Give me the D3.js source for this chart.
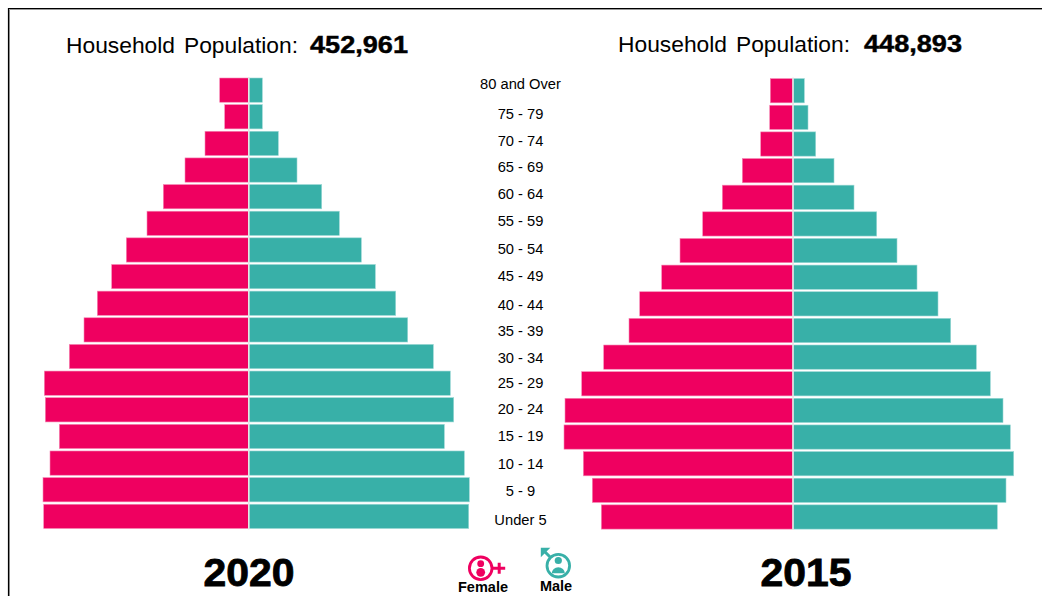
<!doctype html>
<html>
<head>
<meta charset="UTF-8">
<script src="https://d3js.org/d3.v7.min.js"></script>
<style type="text/css">
html, body { margin: 0; padding: 0; background: #fff; overflow: hidden; }
svg { display: block; }
text { font-family: "Liberation Sans", Arial, sans-serif; fill: #000; }
.heavy { font-weight: bold; stroke: #000; stroke-width: 0.8px; }
.num { stroke-width: 0.45px; }
</style>
</head>
<body>
<script>
// age groups, top of the pyramid first
var ageGroups = ["80 and Over", "75 - 79", "70 - 74", "65 - 69", "60 - 64", "55 - 59", "50 - 54", "45 - 49",
  "40 - 44", "35 - 39", "30 - 34", "25 - 29", "20 - 24", "15 - 19", "10 - 14", "5 - 9", "Under 5"];

// persons per age group
var female2020 = [2910, 2410, 4380, 6380, 8550, 10180, 12250, 13710, 15150, 16480, 17950, 20450, 20350, 18950, 19880, 20580, 20510];
var male2020 = [1350, 1350, 2950, 4820, 7290, 9050, 11250, 12650, 14690, 15890, 18450, 20150, 20490, 19550, 21550, 22050, 21990];
var female2015 = [2270, 2330, 3230, 5070, 7070, 9030, 11300, 13130, 15330, 16400, 18930, 21130, 22800, 22900, 20970, 20070, 19170];
var male2015 = [1130, 1500, 2270, 4100, 6100, 8370, 10400, 12400, 14500, 15770, 18330, 19730, 21000, 21730, 22070, 21300, 20430];

var total2020 = "452,961";
var total2015 = "448,893";

var w = 1042;
var h = 596;
var pink = "#ef0060";
var teal = "#38b0a8";

// labels in the original are not evenly spaced, so each gets a small shift off its band centre
var labelShift = [-6, -3, -2.7, -3.3, -2.7, -2.3, -1, -1, 1.8, 1.1, 1.5, -0.2, -0.8, -0.4, 0.9, 1.3, 3.6];

var canvas = d3.select("body").append("svg")
  .attr("width", w)
  .attr("height", h);

// frame only shows on the top and left
canvas.append("path")
  .attr("d", d3.line()([[9.5, h], [9.5, 9.5], [w, 9.5]]))
  .attr("fill", "none")
  .attr("stroke", "#999")
  .attr("stroke-width", 1);
canvas.append("path")
  .attr("d", d3.line()([[8.5, h], [8.5, 8.5], [w, 8.5]]))
  .attr("fill", "none")
  .attr("stroke", "#000")
  .attr("stroke-width", 1.2);

var widthScale = d3.scaleLinear().domain([0, 25000]).range([0, 250]);

function pyramid(female, male, centre, top, bottom) {
  var y = d3.scaleBand()
    .domain(ageGroups)
    .range([top, bottom])
    .paddingInner(0.09);

  var group = canvas.append("g");

  group.selectAll(".female")
    .data(female)
    .enter().append("rect")
    .attr("class", "female")
    .attr("x", function(d) { return centre - widthScale(d); })
    .attr("y", function(d, i) { return y(ageGroups[i]); })
    .attr("width", function(d) { return widthScale(d); })
    .attr("height", y.bandwidth())
    .attr("fill", pink)
    .attr("stroke", "#f58ab5")
    .attr("stroke-width", 0.6);

  group.selectAll(".male")
    .data(male)
    .enter().append("rect")
    .attr("class", "male")
    .attr("x", centre)
    .attr("y", function(d, i) { return y(ageGroups[i]); })
    .attr("width", function(d) { return widthScale(d); })
    .attr("height", y.bandwidth())
    .attr("fill", teal)
    .attr("stroke", "#9ad8d4")
    .attr("stroke-width", 0.6);

  // thin pale divider between the two sides
  group.append("line")
    .attr("x1", centre).attr("x2", centre)
    .attr("y1", top - 1).attr("y2", bottom + 1)
    .attr("stroke", "#e6e6e6")
    .attr("stroke-width", 1.6);

  return y;
}

var y2020 = pyramid(female2020, male2020, 248.8, 78, 528.5);
pyramid(female2015, male2015, 793, 78.6, 529.1);

// age labels sit between the pyramids
canvas.selectAll(".age")
  .data(ageGroups)
  .enter().append("text")
  .attr("class", "age")
  .attr("x", 520.5)
  .attr("y", function(d, i) { return y2020(d) + y2020.bandwidth() / 2 + labelShift[i]; })
  .attr("dy", "0.36em")
  .attr("text-anchor", "middle")
  .attr("font-size", 14.7)
  .text(function(d) { return d; });

function header(x, numX, y, total) {
  canvas.append("text")
    .attr("x", x).attr("y", y)
    .attr("font-size", 22.8)
    .attr("word-spacing", 2.6)
    .text("Household Population:");
  canvas.append("text")
    .attr("class", "heavy num")
    .attr("x", numX).attr("y", y)
    .attr("font-size", 24)
    .attr("textLength", 98)
    .attr("lengthAdjust", "spacingAndGlyphs")
    .text(total);
}
header(66, 310, 52.6, total2020);
header(618, 864, 52, total2015);

function yearLabel(x, y, label) {
  canvas.append("text")
    .attr("class", "heavy")
    .attr("x", x).attr("y", y)
    .attr("font-size", 38)
    .attr("textLength", 91)
    .attr("lengthAdjust", "spacingAndGlyphs")
    .text(label);
}
yearLabel(203.5, 585.5, "2020");
yearLabel(760.5, 586, "2015");

// female symbol
var fem = canvas.append("g").attr("transform", "translate(480.7,568.3)");
fem.append("circle").attr("r", 11.3).attr("fill", "none").attr("stroke", pink).attr("stroke-width", 2.8);
fem.append("circle").attr("cy", -4.6).attr("r", 3.4).attr("fill", pink);
fem.append("ellipse").attr("cy", 4).attr("rx", 4.4).attr("ry", 4.4).attr("fill", pink);
fem.append("path")
  .attr("d", "M12,0H24.5M18.5,-5.5V5.5")
  .attr("fill", "none").attr("stroke", pink).attr("stroke-width", 3);

// male symbol
var mal = canvas.append("g").attr("transform", "translate(558.3,565.7)");
mal.append("circle").attr("r", 11.3).attr("fill", "none").attr("stroke", teal).attr("stroke-width", 2.8);
mal.append("circle").attr("cy", -5.2).attr("r", 3.6).attr("fill", teal);
mal.append("path").attr("d", "M-6.5,7.5A6.5,6,0,0,1,6.5,7.5Z").attr("fill", teal);
mal.append("path")
  .attr("d", "M-8,-8.5L-15.5,-16")
  .attr("fill", "none").attr("stroke", teal).attr("stroke-width", 3);
mal.append("path").attr("d", "M-17.5,-18H-8L-17.5,-8.5Z").attr("fill", teal);

canvas.append("text").attr("x", 483).attr("y", 591.5).attr("text-anchor", "middle")
  .attr("font-size", 14.5).attr("font-weight", "bold").text("Female");
canvas.append("text").attr("x", 556).attr("y", 590.5).attr("text-anchor", "middle")
  .attr("font-size", 14.5).attr("font-weight", "bold").text("Male");
</script>
</body>
</html>
